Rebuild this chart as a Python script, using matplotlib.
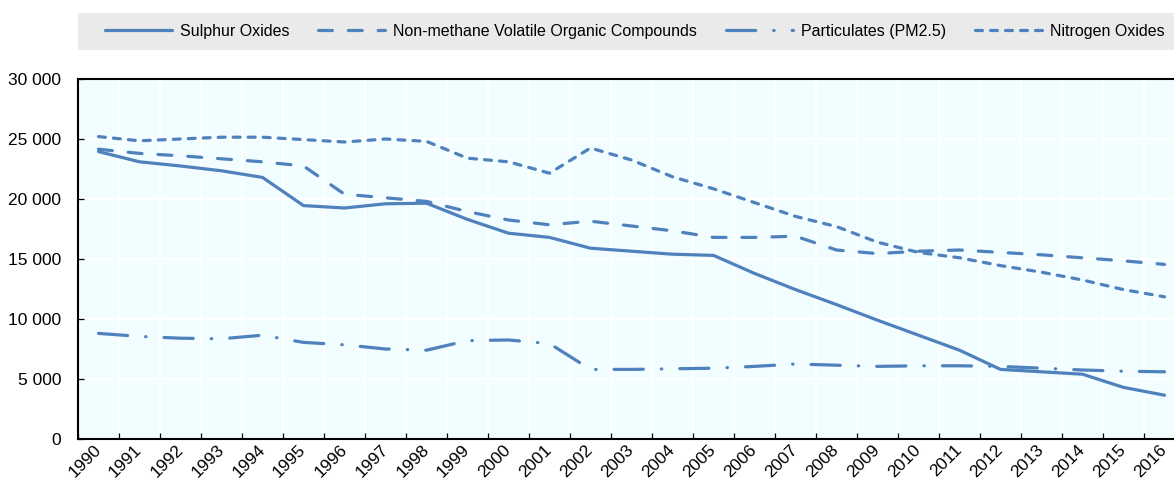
import matplotlib
matplotlib.use("Agg")
import matplotlib.pyplot as plt
from matplotlib.patches import Rectangle
from matplotlib.ticker import FuncFormatter
import numpy as np

plt.rcParams['font.family'] = ['Liberation Sans', 'DejaVu Sans']
plt.rcParams['lines.scale_dashes'] = False

years = list(range(1990, 2017))

sulphur = [23950, 23100, 22750, 22350, 21800, 19450, 19250, 19600, 19650, 18300,
           17150, 16800, 15900, 15650, 15400, 15300, 13800, 12450, 11200, 9900,
           8650, 7400, 5800, 5600, 5400, 4300, 3650]
nmvoc = [24150, 23800, 23600, 23350, 23100, 22750, 20400, 20100, 19800, 18950,
         18250, 17850, 18150, 17750, 17350, 16800, 16800, 16900, 15750, 15450,
         15650, 15750, 15550, 15350, 15100, 14850, 14550]
pm25 = [8800, 8550, 8400, 8350, 8650, 8050, 7850, 7500, 7400, 8200,
        8250, 7950, 5800, 5800, 5850, 5900, 6050, 6250, 6150, 6050,
        6100, 6100, 6050, 5900, 5750, 5650, 5600]
nox = [25200, 24850, 25000, 25150, 25150, 24950, 24750, 25000, 24800, 23400,
       23100, 22150, 24250, 23250, 21850, 20850, 19700, 18550, 17700, 16400,
       15550, 15100, 14450, 13900, 13250, 12450, 11850]

names = ['Sulphur Oxides', 'Non-methane Volatile Organic Compounds',
         'Particulates (PM2.5)', 'Nitrogen Oxides']

col = '#4F81BD'
W, H = 1174, 480
fig = plt.figure(figsize=(W / 100, H / 100), dpi=100)

# plot area runs past the right edge, as in the cropped original
ax = fig.add_axes([78 / W, 1 - 439 / H, 41 * 27 / W, 360 / H])
ax.set_facecolor('#F2FDFF')

x = np.arange(len(years))
lw = 2.3
ax.plot(x, sulphur, color=col, lw=lw, solid_capstyle='round', label=names[0])
ax.plot(x, nmvoc, color=col, lw=lw, dashes=(10, 11.5), dash_capstyle='round', label=names[1])
ax.plot(x, pm25, color=col, lw=lw, dashes=(21, 13, 0.3, 13), dash_capstyle='round', label=names[2])
ax.plot(x, nox, color=col, lw=lw, dashes=(5, 5.8), dash_capstyle='round', label=names[3])

ax.set_xlim(-0.5, len(years) - 0.5)
ax.set_ylim(0, 30000)
ax.set_yticks(np.arange(0, 30001, 5000))
ax.yaxis.set_major_formatter(FuncFormatter(lambda v, p: '{:,.0f}'.format(v).replace(',', ' ')))
ax.tick_params(axis='y', direction='in', length=4, width=0.9, color='black', pad=12, labelsize=12.5)

ax.set_xticks(np.arange(-0.5, len(years), 1))
ax.set_xticklabels([])
ax.set_xticks(x, minor=True)
ax.set_xticklabels([str(y) for y in years], minor=True, rotation=45,
                   ha='right', va='center', rotation_mode='anchor', fontsize=12.5)
ax.tick_params(axis='x', which='major', direction='in', length=4, width=0.9, color='black')
ax.tick_params(axis='x', which='minor', length=0, pad=6)

ax.grid(True, which='major', color='white', lw=1.2)
ax.set_axisbelow(True)
for s in ['left', 'bottom', 'top']:
    ax.spines[s].set_linewidth(1.5)
    ax.spines[s].set_color('black')
ax.spines['right'].set_visible(False)

# legend band
fig.patches.append(Rectangle((78 / W, 1 - 50 / H), 1.2, 37 / H, transform=fig.transFigure,
                             facecolor='#EAEAEA', edgecolor='none', zorder=0))
fig.legend(loc='center left', bbox_to_anchor=(105 / W, 1 - 31.5 / H), ncol=4, frameon=False,
           fontsize=11.5, handlelength=4.2, handletextpad=0.5, columnspacing=1.8,
           borderpad=0, borderaxespad=0)

fig.savefig('out.png', dpi=100)
